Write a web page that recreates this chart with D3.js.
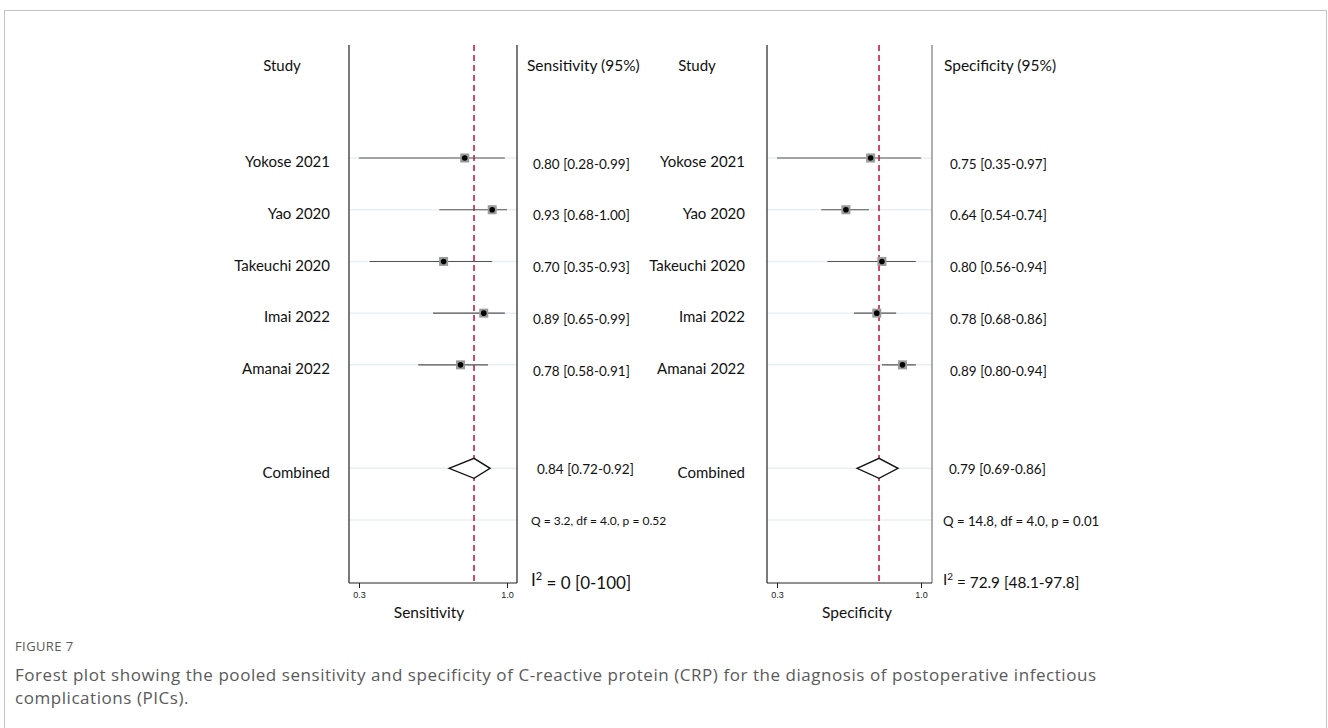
<!DOCTYPE html>
<html>
<head>
<meta charset="utf-8">
<script src="https://cdn.jsdelivr.net/npm/d3@7"></script>
<style>
  body { margin: 0; background: #fff; }
  svg { display: block; }
</style>
</head>
<body>
<div class="forest"></div>
<script>
// study rows
const studies = ["Yokose 2021", "Yao 2020", "Takeuchi 2020", "Imai 2022", "Amanai 2022"];

// sensitivity (as drawn)
const sensEst = [0.80, 0.93, 0.70, 0.89, 0.78];
const sensLo = [0.28, 0.68, 0.35, 0.65, 0.58];
const sensHi = [0.99, 1.00, 0.93, 0.99, 0.91];
const sensPooled = [0.844, 0.726, 0.92]; // est, lo, hi
const sensLabels = ["0.80 [0.28-0.99]", "0.93 [0.68-1.00]", "0.70 [0.35-0.93]", "0.89 [0.65-0.99]", "0.78 [0.58-0.91]"];
const sensPooledLabel = "0.84 [0.72-0.92]";
const sensQ = "Q = 3.2, df = 4.0, p = 0.52";
const sensI2 = ["I", "2", " = 0 [0-100]"];

// specificity (as drawn)
const specEst = [0.755, 0.635, 0.81, 0.785, 0.91];
const specLo = [0.30, 0.515, 0.545, 0.675, 0.81];
const specHi = [1.00, 0.747, 0.975, 0.879, 0.975];
const specPooled = [0.796, 0.689, 0.888];
const specLabels = ["0.75 [0.35-0.97]", "0.64 [0.54-0.74]", "0.80 [0.56-0.94]", "0.78 [0.68-0.86]", "0.89 [0.80-0.94]"];
const specPooledLabel = "0.79 [0.69-0.86]";
const specQ = "Q = 14.8, df = 4.0, p = 0.01";
const specI2 = ["I", "2", " = 72.9 [48.1-97.8]"];

const axisTicks = [0.3, 1.0];

const width = 1328, height = 728;
const font = "Lato, 'Open Sans', sans-serif";

const svg = d3.select(".forest").append("svg")
  .attr("width", width)
  .attr("height", height);

// outer frame of the figure
svg.append("rect")
  .attr("x", 4.5).attr("y", 10.5)
  .attr("width", 1322).attr("height", 740)
  .attr("fill", "none")
  .attr("stroke", "#c4c4c4");

// rows: 0-4 studies, 5 blank, 6 combined, 7 Q
const y = d3.scaleLinear().domain([0, 7]).range([158, 520]);

function panel({
  left, right, x0, x1, est, lo, hi, pooled, labels, pooledLabel, qText, i2,
  studyX, valueX, sumX, qSize, i2Size, header, axisTitle, axisTitleX, rightStroke
}) {
  const x = d3.scaleLinear().domain([0.3, 1.0]).range([x0, x1]);
  const clamp = v => Math.max(0.3, Math.min(1.0, v));
  const g = svg.append("g");
  const top = 45, bottom = 583;

  // faint row guides
  g.append("g")
    .selectAll("line")
    .data([0, 1, 2, 3, 4, 6, 7])
    .join("line")
    .attr("x1", left).attr("x2", right)
    .attr("y1", d => y(d)).attr("y2", d => y(d))
    .attr("stroke", "#e9eff3")
    .attr("stroke-width", 1.5);

  // frame (left, right, bottom)
  g.append("line").attr("x1", left).attr("x2", left).attr("y1", top).attr("y2", bottom)
    .attr("stroke", "#222").attr("stroke-width", 1.2);
  g.append("line").attr("x1", right).attr("x2", right).attr("y1", top).attr("y2", bottom)
    .attr("stroke", rightStroke).attr("stroke-width", 1.2);

  // axis
  const axis = g.append("g")
    .attr("transform", `translate(0,${bottom})`)
    .call(d3.axisBottom(x).tickValues(axisTicks).tickFormat(d3.format(".1f")).tickSize(5).tickPadding(4));
  axis.select(".domain").remove();
  axis.append("line").attr("x1", left).attr("x2", right).attr("stroke", "#222").attr("stroke-width", 1.2);
  axis.selectAll(".tick line").attr("stroke", "#222");
  axis.selectAll(".tick text").attr("font-family", "Arial, 'Liberation Sans', sans-serif")
    .attr("font-size", 9).attr("fill", "#222");

  // pooled reference line
  g.append("line")
    .attr("x1", x(pooled[0])).attr("x2", x(pooled[0]))
    .attr("y1", top).attr("y2", bottom)
    .attr("stroke", "#cc1a45")
    .attr("stroke-width", 1.6)
    .attr("stroke-dasharray", "6,4");

  // CI lines
  g.append("g")
    .selectAll("line")
    .data(studies.map((s, i) => i))
    .join("line")
    .attr("x1", i => x(clamp(lo[i]))).attr("x2", i => x(clamp(hi[i])))
    .attr("y1", i => y(i)).attr("y2", i => y(i))
    .attr("stroke", "#555")
    .attr("stroke-width", 1.1);

  // study squares + dots
  const pts = g.append("g")
    .selectAll("g")
    .data(studies.map((s, i) => i))
    .join("g")
    .attr("transform", i => `translate(${x(est[i])},${y(i)})`);
  pts.append("rect").attr("x", -4.5).attr("y", -4.5).attr("width", 9).attr("height", 9).attr("fill", "#9a9a9a");
  pts.append("circle").attr("r", 2.8).attr("fill", "#000");

  // pooled diamond
  const yc = y(6);
  g.append("path")
    .attr("d", `M${x(pooled[1])},${yc}L${x(pooled[0])},${yc - 10}L${x(pooled[2])},${yc}L${x(pooled[0])},${yc + 10}Z`)
    .attr("fill", "#fff")
    .attr("stroke", "#111")
    .attr("stroke-width", 1.4);

  const t = g.append("g").attr("font-family", font).attr("fill", "#111");

  // headers
  t.append("text").attr("x", studyX - 48).attr("y", 66).attr("dy", "0.35em")
    .attr("text-anchor", "middle").attr("font-size", 15).text("Study");
  t.append("text").attr("x", valueX - 6).attr("y", 66).attr("dy", "0.35em")
    .attr("font-size", 15.5).text(header);

  // study names
  t.selectAll(".study")
    .data(studies.concat(["Combined"]))
    .join("text")
    .attr("class", "study")
    .attr("x", studyX)
    .attr("y", (d, i) => y(i < 5 ? i : 6) + 4)
    .attr("dy", "0.35em")
    .attr("text-anchor", "end")
    .attr("font-size", 15)
    .text(d => d);

  // estimates
  t.selectAll(".val")
    .data(labels)
    .join("text")
    .attr("class", "val")
    .attr("x", valueX)
    .attr("y", (d, i) => y(i) + 6)
    .attr("dy", "0.35em")
    .attr("font-size", 13.5)
    .text(d => d);

  t.append("text").attr("x", sumX + 6).attr("y", y(6) + 1).attr("dy", "0.35em")
    .attr("font-size", 13.5).text(pooledLabel);
  t.append("text").attr("x", sumX).attr("y", y(7) + 1).attr("dy", "0.35em")
    .attr("font-size", qSize).text(qText);

  const i2t = t.append("text").attr("x", sumX).attr("y", 580).attr("dy", "0.35em")
    .attr("font-size", i2Size);
  i2t.append("tspan").text(i2[0]);
  i2t.append("tspan").attr("font-size", i2Size * 0.65).attr("dy", "-0.55em").text(i2[1]);
  i2t.append("tspan").attr("dy", "0.55em").text(i2[2]);

  // axis title
  t.append("text").attr("x", axisTitleX).attr("y", 613).attr("dy", "0.35em")
    .attr("text-anchor", "middle").attr("font-size", 15.5).text(axisTitle);
}

panel({
  left: 349, right: 517, x0: 359, x1: 507,
  est: sensEst, lo: sensLo, hi: sensHi, pooled: sensPooled,
  labels: sensLabels, pooledLabel: sensPooledLabel, qText: sensQ, i2: sensI2,
  studyX: 330, valueX: 533, sumX: 531, qSize: 12, i2Size: 17,
  header: "Sensitivity (95%)",
  axisTitle: "Sensitivity", axisTitleX: 429, rightStroke: "#222"
});

panel({
  left: 767, right: 932, x0: 777, x1: 921,
  est: specEst, lo: specLo, hi: specHi, pooled: specPooled,
  labels: specLabels, pooledLabel: specPooledLabel, qText: specQ, i2: specI2,
  studyX: 745, valueX: 950, sumX: 943, qSize: 13.2, i2Size: 15.3,
  header: "Specificity (95%)",
  axisTitle: "Specificity", axisTitleX: 857, rightStroke: "#777"
});

// caption
const cap = svg.append("g").attr("font-family", "'Open Sans', sans-serif").attr("fill", "#5a5a5a");
cap.append("text").attr("x", 15).attr("y", 651).attr("font-size", 13).attr("letter-spacing", 0.4).text("FIGURE 7");
cap.append("text").attr("x", 15).attr("y", 681).attr("font-size", 17).attr("letter-spacing", 0.55)
  .text("Forest plot showing the pooled sensitivity and specificity of C-reactive protein (CRP) for the diagnosis of postoperative infectious");
cap.append("text").attr("x", 15).attr("y", 704).attr("font-size", 17).attr("letter-spacing", 0.55)
  .text("complications (PICs).");
</script>
</body>
</html>
